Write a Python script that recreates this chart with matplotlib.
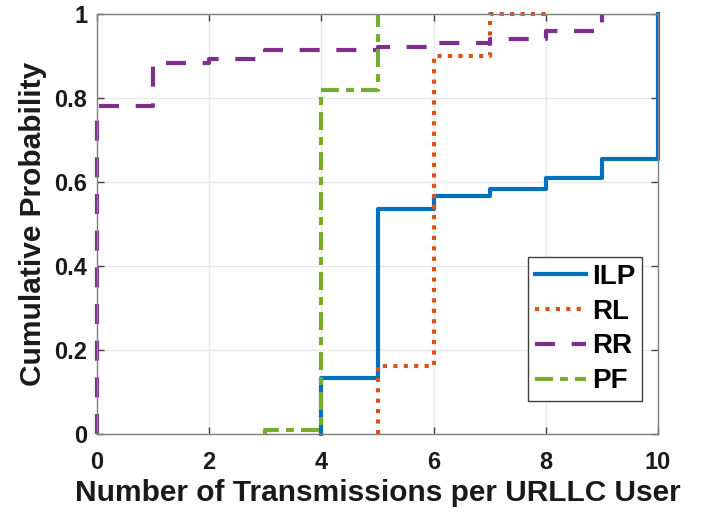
import matplotlib
matplotlib.use("Agg")
import matplotlib.pyplot as plt

plt.rcParams['font.family'] = ['Liberation Sans', 'DejaVu Sans']
plt.rcParams['font.weight'] = 'bold'

# step data (x = transmissions, y = cumulative probability)
ilp_x = [4, 4, 5, 6, 7, 8, 9, 10]
ilp_y = [0, 0.133, 0.535, 0.567, 0.583, 0.609, 0.654, 1.0]

rl_x = [5, 5, 6, 7, 8]
rl_y = [0, 0.163, 0.90, 1.0, 1.0]

rr_x = [0, 0, 1, 2, 3, 5, 6, 7, 8, 9]
rr_y = [0, 0.781, 0.884, 0.893, 0.914, 0.922, 0.930, 0.941, 0.960, 1.0]

pf_x = [3, 3, 4, 5]
pf_y = [0, 0.01, 0.82, 1.0]

x_ticks = [0, 2, 4, 6, 8, 10]
y_ticks = [0, 0.2, 0.4, 0.6, 0.8, 1.0]
y_tick_labels = ['0', '0.2', '0.4', '0.6', '0.8', '1']

fig = plt.figure(figsize=(7.02, 5.17), dpi=100)
ax = fig.add_axes([97 / 702, 83 / 517, 561 / 702, 420 / 517])

lw = 3.0
ax.step(ilp_x, ilp_y, where='post', color='#0072BD', lw=lw, label='ILP',
        clip_on=False)
ax.step(rl_x, rl_y, where='post', color='#D95319', lw=lw, label='RL',
        dashes=(1.0, 1.5), dash_capstyle='butt', clip_on=False)
ax.step(rr_x, rr_y, where='post', color='#7E2F8E', lw=lw, label='RR',
        dashes=(4.8, 4.0), dash_capstyle='butt', clip_on=False)
ax.step(pf_x, pf_y, where='post', color='#77AC30', lw=lw, label='PF',
        dashes=(4.3, 1.7, 1.9, 1.7), dash_capstyle='butt', clip_on=False)

ax.set_xlim(0, 10)
ax.set_ylim(0, 1)
ax.set_xticks(x_ticks)
ax.set_yticks(y_ticks)
ax.set_yticklabels(y_tick_labels)
ax.grid(True, color='#e8e8e8', lw=1.0)
ax.set_axisbelow(True)

for s in ax.spines.values():
    s.set_color('#808080')
    s.set_linewidth(1.0)
ax.tick_params(direction='in', top=True, right=True, length=5, width=1,
               color='#404040', labelsize=17, labelcolor='#1a1a1a')
ax.tick_params(axis='x', pad=12)
ax.tick_params(axis='y', pad=7)

ax.set_xlabel('Number of Transmissions per URLLC User', fontsize=21.5,
              fontweight='bold', color='#1a1a1a', labelpad=4)
ax.set_ylabel('Cumulative Probability', fontsize=21.5, fontweight='bold',
              color='#1a1a1a', labelpad=5)

leg = ax.legend(loc='lower right', bbox_to_anchor=(0.972, 0.078), fontsize=20,
                frameon=True, fancybox=False, framealpha=1, edgecolor='#404040',
                handlelength=1.85, handletextpad=0.2, borderpad=0.25,
                labelspacing=0.32, borderaxespad=0)
leg.get_frame().set_linewidth(1.0)
for t in leg.get_texts():
    t.set_fontweight('bold')

fig.savefig('out.png', dpi=100)
